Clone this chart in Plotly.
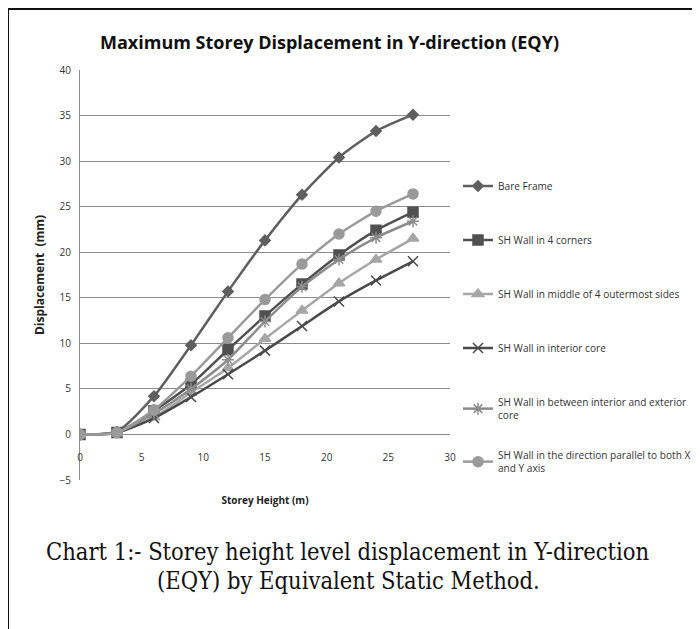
import plotly.graph_objects as go

storey_height = [0, 3, 6, 9, 12, 15, 18, 21, 24, 27]

series_names = [
    "Bare Frame",
    "SH Wall in 4 corners",
    "SH Wall in middle of 4 outermost sides",
    "SH Wall in interior core",
    "SH Wall in between interior and exterior<br>core",
    "SH Wall in the direction parallel to both X<br>and Y axis",
]
bare_frame = [0, 0.3, 4.2, 9.8, 15.7, 21.3, 26.3, 30.4, 33.3, 35.1]
four_corners = [0, 0.2, 2.6, 5.5, 9.3, 13.0, 16.5, 19.7, 22.4, 24.4]
middle_sides = [0, 0.2, 1.9, 4.6, 7.3, 10.5, 13.6, 16.6, 19.2, 21.5]
interior_core = [0, 0.2, 1.8, 4.1, 6.6, 9.2, 11.9, 14.6, 16.9, 19.0]
between_core = [0, 0.2, 2.3, 5.0, 8.2, 12.4, 16.2, 19.2, 21.6, 23.4]
parallel_xy = [0, 0.2, 2.7, 6.4, 10.6, 14.8, 18.7, 22.0, 24.5, 26.4]

x_ticks = [0, 5, 10, 15, 20, 25, 30]
y_ticks = [-5, 0, 5, 10, 15, 20, 25, 30, 35, 40]

values = [bare_frame, four_corners, middle_sides, interior_core, between_core, parallel_xy]
colors = ["#5f5f5f", "#505050", "#a6a6a6", "#4a4a4a", "#8c8c8c", "#9a9a9a"]
symbols = ["diamond", "square", "triangle-up", "x-thin-open", "asterisk-open", "circle"]
sizes = [8, 10, 10, 10, 10, 10]
legend_rows = [186, 240, 294, 348, 409, 462]  # reference pixel centres of legend entries

OFF = 8  # page body margin of the browser
W, H = 700, 629
L, R, T, B = 80 - OFF, W - (450 - OFF), 70 - OFF, H - (480 - OFF)
PW, PH = W - L - R, H - T - B

def px(xpix):
    return (xpix - OFF - L) / PW

def py(ypix):
    return 1 - (ypix - OFF - T) / PH

fig = go.Figure()
legend_keys = ["legend", "legend2", "legend3", "legend4", "legend5", "legend6"]
for i, (name, vals) in enumerate(zip(series_names, values)):
    fig.add_trace(go.Scatter(
        x=storey_height, y=vals, name=name, mode="lines+markers",
        line=dict(color=colors[i], width=2.5, shape="spline", smoothing=0.6),
        marker=dict(symbol=symbols[i], size=sizes[i], color=colors[i],
                    line=dict(color=colors[i], width=1.5)),
        legend=legend_keys[i], showlegend=True,
    ))

legend_layout = {}
for i, key in enumerate(legend_keys):
    legend_layout[key] = dict(
        x=px(458), xanchor="left", y=py(legend_rows[i]), yanchor="middle",
        itemwidth=30, font=dict(size=10.1, family="Open Sans", color="#333333"),
        bgcolor="rgba(0,0,0,0)", visible=True)

fig.update_layout(
    width=W, height=H, showlegend=True,
    margin=dict(l=L, r=R, t=T, b=B, autoexpand=False),
    paper_bgcolor="white", plot_bgcolor="white",
    font=dict(family="Open Sans", color="#333333"),
    xaxis=dict(range=[0, 30], tickvals=x_ticks, showgrid=False, zeroline=False,
               showline=False, anchor="free", position=5 / 45, automargin=False,
               ticks="", ticklabelstandoff=16, tickfont=dict(size=10, color="#333333"),
               title=dict(text="<b>Storey Height (m)</b>", font=dict(size=10, color="#222222"),
                          standoff=33)),
    yaxis=dict(range=[-5, 40], tickvals=y_ticks, showgrid=True, gridcolor="#8c8c8c",
               gridwidth=1, zeroline=False, showline=True, linecolor="#8c8c8c",
               linewidth=1, ticks="", automargin=False, ticklabelstandoff=6,
               tickfont=dict(size=10, color="#333333"),
               title=dict(text="<b>Displacement  (mm)</b>", font=dict(size=12, color="#222222"),
                          standoff=12)),
    **legend_layout,
)

# chart title
fig.add_annotation(
    text="<b>Maximum Storey Displacement in Y-direction (EQY)</b>",
    xref="paper", yref="paper", x=px(329), y=py(42),
    xanchor="center", yanchor="middle", showarrow=False,
    font=dict(size=18, family="Open Sans", color="#111111"),
)

# caption below the chart (two lines)
caption_lines = ["Chart 1:- Storey height level displacement in Y-direction",
                 "(EQY) by Equivalent Static Method."]
for text, ycap in zip(caption_lines, [552, 581]):
    fig.add_annotation(
        text=text, xref="paper", yref="paper", x=px(348), y=py(ycap),
        xanchor="center", yanchor="middle", showarrow=False,
        font=dict(size=23.5, family="DejaVu Serif Condensed", color="#111111"),
    )

# frame lines (left and top border of the figure)
fig.add_shape(type="line", xref="paper", yref="paper",
              x0=px(8), x1=px(W + 20), y0=py(9), y1=py(9),
              line=dict(color="#111111", width=2))
fig.add_shape(type="line", xref="paper", yref="paper",
              x0=px(8), x1=px(8), y0=py(9), y1=py(H + 20),
              line=dict(color="#111111", width=2))

fig.write_html("out.html")
